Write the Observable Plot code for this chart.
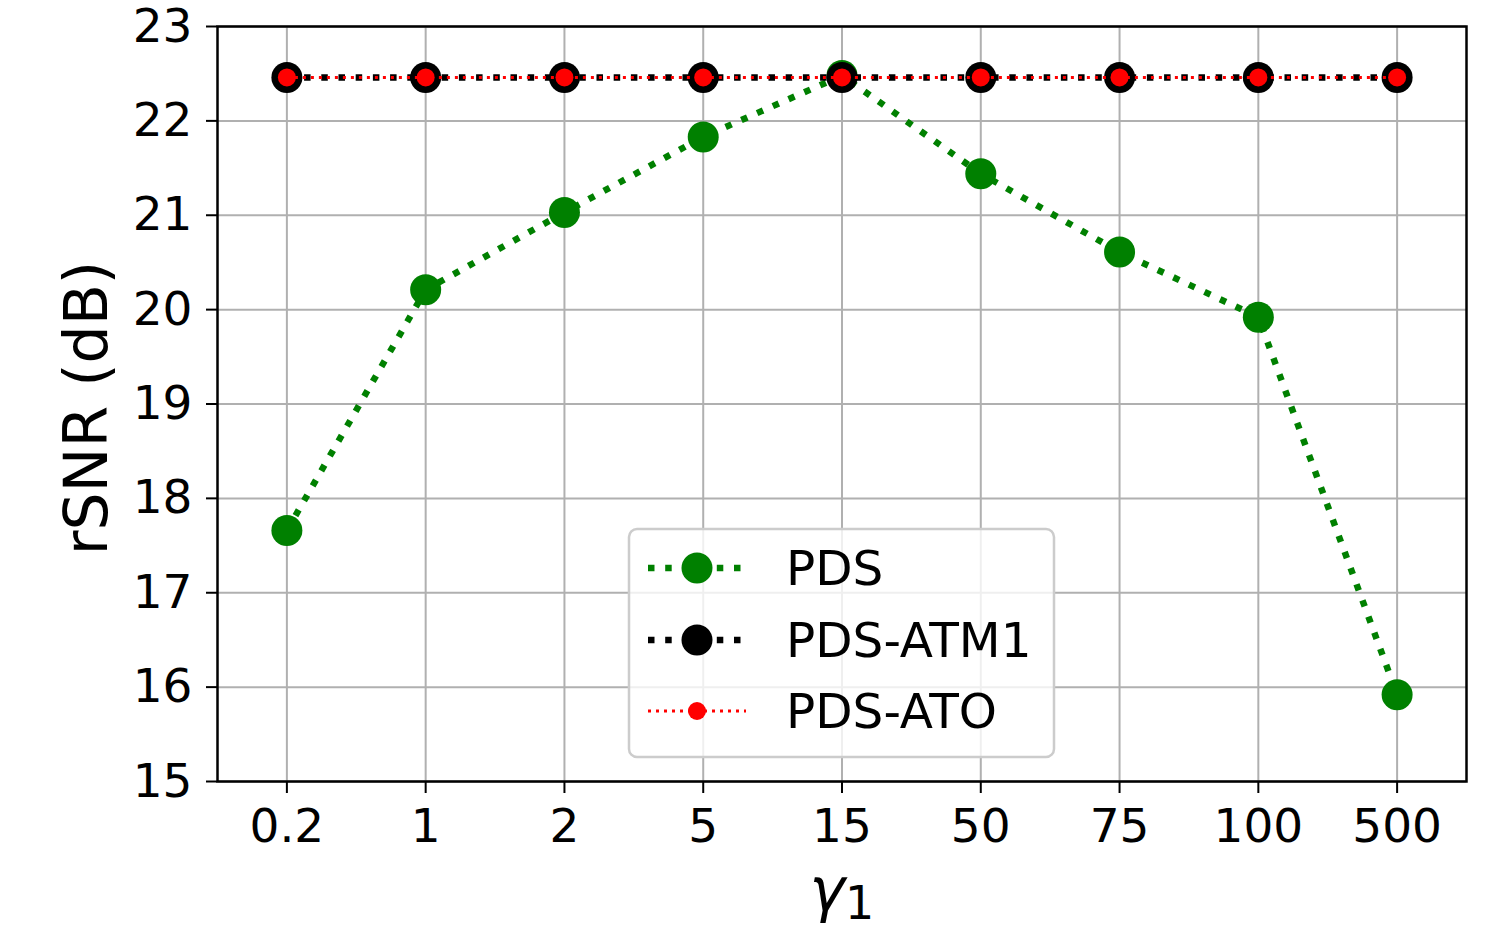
<!DOCTYPE html>
<html>
<head>
<meta charset="utf-8">
<script src="https://cdn.jsdelivr.net/npm/d3@7"></script>
<script src="https://cdn.jsdelivr.net/npm/@observablehq/plot@0.6"></script>
<style>
  html, body { margin: 0; padding: 0; background: #fff; }
  #chart { width: 1490px; height: 937px; }
  svg { font-family: "DejaVu Sans", sans-serif; }
</style>
</head>
<body>
<div id="chart"></div>
<script>
// ---- data ----
const gammas = ["0.2", "1", "2", "5", "15", "50", "75", "100", "500"];
const pds    = [17.66, 20.21, 21.03, 21.83, 22.48, 21.44, 20.61, 19.92, 15.92];
const atm1   = [22.46, 22.46, 22.46, 22.46, 22.46, 22.46, 22.46, 22.46, 22.46];
const ato    = [22.46, 22.46, 22.46, 22.46, 22.46, 22.46, 22.46, 22.46, 22.46];
const yTicks = [15, 16, 17, 18, 19, 20, 21, 22, 23];
const seriesNames = ["PDS", "PDS-ATM1", "PDS-ATO"];

const rowsPDS  = gammas.map((g, i) => ({g, v: pds[i]}));
const rowsATM1 = gammas.map((g, i) => ({g, v: atm1[i]}));
const rowsATO  = gammas.map((g, i) => ({g, v: ato[i]}));

const styles = {
  "PDS":      {color: "#008000", lw: 6.5, dash: "6.5,10.7", r: 15.5},
  "PDS-ATM1": {color: "#000000", lw: 6.5, dash: "6.5,10.7", r: 15.5},
  "PDS-ATO":  {color: "#ff0000", lw: 3,   dash: "3,5",      r: 9}
};

const chart = Plot.plot({
  width: 1490,
  height: 937,
  marginLeft: 217,
  marginRight: 24,
  marginTop: 26,
  marginBottom: 156,
  style: {fontFamily: "DejaVu Sans", color: "black", background: "white", overflow: "visible"},
  x: {type: "point", domain: gammas, padding: 0.5, round: false, label: null},
  y: {domain: [15, 23], label: null},
  marks: [
    Plot.gridX(gammas, {stroke: "#b0b0b0", strokeOpacity: 1, strokeWidth: 2}),
    Plot.gridY(yTicks, {stroke: "#b0b0b0", strokeOpacity: 1, strokeWidth: 2}),
    Plot.line(rowsPDS, {x: "g", y: "v", stroke: styles["PDS"].color, strokeWidth: styles["PDS"].lw, strokeDasharray: styles["PDS"].dash, strokeLinecap: "butt"}),
    Plot.dot(rowsPDS, {x: "g", y: "v", r: styles["PDS"].r, fill: styles["PDS"].color, stroke: "none"}),
    Plot.line(rowsATM1, {x: "g", y: "v", stroke: styles["PDS-ATM1"].color, strokeWidth: styles["PDS-ATM1"].lw, strokeDasharray: styles["PDS-ATM1"].dash, strokeLinecap: "butt"}),
    Plot.dot(rowsATM1, {x: "g", y: "v", r: styles["PDS-ATM1"].r, fill: styles["PDS-ATM1"].color, stroke: "none"}),
    Plot.line(rowsATO, {x: "g", y: "v", stroke: styles["PDS-ATO"].color, strokeWidth: styles["PDS-ATO"].lw, strokeDasharray: styles["PDS-ATO"].dash, strokeLinecap: "butt"}),
    Plot.dot(rowsATO, {x: "g", y: "v", r: styles["PDS-ATO"].r, fill: styles["PDS-ATO"].color, stroke: "none"}),
    Plot.frame({stroke: "black", strokeWidth: 2.5}),
    Plot.axisY({ticks: yTicks, tickSize: 11, tickPadding: 14, fontSize: 47, label: null, stroke: "black", strokeWidth: 2}),
    Plot.axisX({ticks: gammas, tickSize: 12, tickPadding: 15, fontSize: 47, label: null, stroke: "black", strokeWidth: 2})
  ]
});

document.getElementById("chart").appendChild(chart);

const svg = d3.select(chart);
svg.selectAll("text").attr("fill", "black");

// axis titles
svg.append("text")
  .attr("transform", "translate(107,408) rotate(-90)")
  .attr("text-anchor", "middle")
  .attr("font-size", 60)
  .attr("fill", "black")
  .text("rSNR (dB)");

const xl = svg.append("text")
  .attr("x", 842)
  .attr("y", 910)
  .attr("text-anchor", "middle")
  .attr("font-size", 60)
  .attr("fill", "black");
xl.append("tspan").attr("font-style", "italic").text("γ");
xl.append("tspan").attr("font-size", 46).attr("dy", 9).text("1");

// legend
const lg = svg.append("g");
lg.append("rect")
  .attr("x", 629).attr("y", 529).attr("width", 425).attr("height", 228)
  .attr("rx", 8).attr("fill", "white").attr("fill-opacity", 0.8)
  .attr("stroke", "#cccccc").attr("stroke-width", 2.5);
const rowY = [568, 640, 711];
seriesNames.forEach((name, i) => {
  const s = styles[name];
  const y = rowY[i];
  lg.append("line")
    .attr("x1", 648).attr("x2", 746).attr("y1", y).attr("y2", y)
    .attr("stroke", s.color).attr("stroke-width", s.lw)
    .attr("stroke-dasharray", s.dash);
  lg.append("circle").attr("cx", 697).attr("cy", y).attr("r", s.r).attr("fill", s.color);
  lg.append("text")
    .attr("x", 786).attr("y", y).attr("dy", "0.36em")
    .attr("text-anchor", "start")
    .attr("font-size", 48.5).attr("fill", "black")
    .text(name);
});
</script>
</body>
</html>
